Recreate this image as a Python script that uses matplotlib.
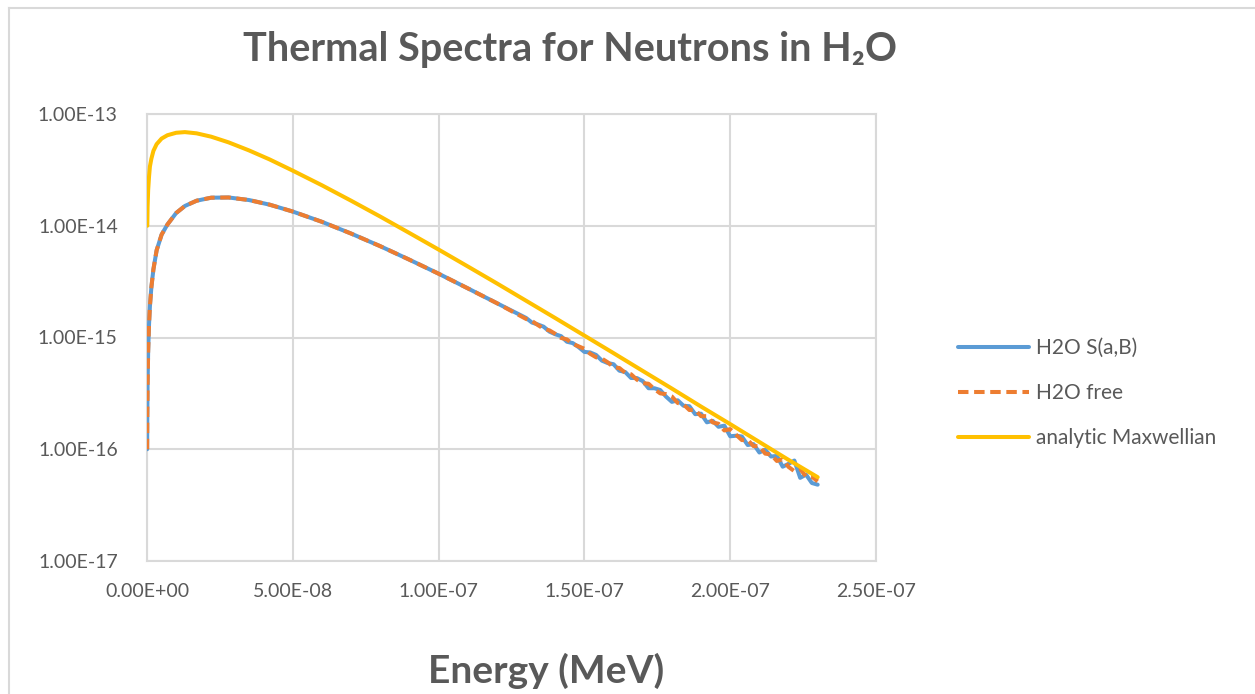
import numpy as np
import matplotlib
matplotlib.use("Agg")
import matplotlib.pyplot as plt
from matplotlib.ticker import FixedLocator, FuncFormatter, NullLocator
from matplotlib.lines import Line2D

# ---------------- data ----------------
# Smooth head of the S(a,B) / free-gas spectra (energy in MeV, log10 of flux)
head_energy = [5e-11, 1e-10, 2e-10, 4e-10, 7e-10, 1e-9, 1.5e-9, 2.2e-9, 3.3e-9, 5e-9,
               7e-9, 1e-8, 1.3e-8, 1.7e-8, 2.2e-8, 2.8e-8, 3.5e-8, 4.2e-8, 5e-8,
               6e-8, 7e-8, 8e-8, 9e-8, 1e-7, 1.1e-7, 1.2e-7]
sab_head_log = [-16.00, -15.72, -15.42, -15.12, -14.88, -14.72, -14.55, -14.39, -14.22,
                -14.08, -13.989, -13.886, -13.823, -13.776, -13.749, -13.747, -13.770,
                -13.811, -13.873, -13.965, -14.070, -14.183, -14.304, -14.429, -14.560,
                -14.693]
free_head_log = [-16.00, -15.72, -15.42, -15.12, -14.88, -14.72, -14.55, -14.39, -14.22,
                 -14.08, -13.989, -13.886, -13.823, -13.776, -13.749, -13.747, -13.770,
                 -13.811, -13.873, -13.965, -14.070, -14.183, -14.304, -14.429, -14.560,
                 -14.693]

# Noisy tail (1.30e-7 ... 2.30e-7 MeV, every 2e-9)
tail_energy = [1.30e-7, 1.32e-7, 1.34e-7, 1.36e-7, 1.38e-7, 1.40e-7, 1.42e-7, 1.44e-7,
               1.46e-7, 1.48e-7, 1.50e-7, 1.52e-7, 1.54e-7, 1.56e-7, 1.58e-7, 1.60e-7,
               1.62e-7, 1.64e-7, 1.66e-7, 1.68e-7, 1.70e-7, 1.72e-7, 1.74e-7, 1.76e-7,
               1.78e-7, 1.80e-7, 1.82e-7, 1.84e-7, 1.86e-7, 1.88e-7, 1.90e-7, 1.92e-7,
               1.94e-7, 1.96e-7, 1.98e-7, 2.00e-7, 2.02e-7, 2.04e-7, 2.06e-7, 2.08e-7,
               2.10e-7, 2.12e-7, 2.14e-7, 2.16e-7, 2.18e-7, 2.20e-7, 2.22e-7, 2.24e-7,
               2.26e-7, 2.28e-7, 2.30e-7]
sab_tail_log = [-14.825, -14.866, -14.883, -14.903, -14.947, -14.971, -14.988, -15.038,
                -15.050, -15.086, -15.129, -15.134, -15.156, -15.207, -15.229, -15.239,
                -15.297, -15.309, -15.362, -15.363, -15.390, -15.454, -15.454, -15.470,
                -15.529, -15.576, -15.562, -15.611, -15.615, -15.686, -15.682, -15.759,
                -15.746, -15.799, -15.789, -15.884, -15.879, -15.886, -15.962, -15.954,
                -16.029, -16.004, -16.065, -16.060, -16.156, -16.131, -16.101, -16.256,
                -16.227, -16.302, -16.317]
free_tail_log = [-14.834, -14.852, -14.888, -14.921, -14.936, -14.967, -15.004, -15.017,
                 -15.057, -15.079, -15.101, -15.146, -15.177, -15.189, -15.222, -15.266,
                 -15.273, -15.316, -15.329, -15.377, -15.408, -15.414, -15.462, -15.500,
                 -15.507, -15.528, -15.586, -15.599, -15.649, -15.648, -15.704, -15.704,
                 -15.760, -15.772, -15.832, -15.820, -15.870, -15.918, -15.916, -15.972,
                 -15.972, -16.039, -16.047, -16.105, -16.088, -16.158, -16.196, -16.176,
                 -16.245, -16.245, -16.287]

# Analytic Maxwellian
maxw_energy = [1e-10, 2e-10, 4e-10, 7e-10, 1e-9, 1.5e-9, 2.2e-9, 3.3e-9, 5e-9, 7e-9,
               1e-8, 1.3e-8, 1.7e-8, 2.2e-8, 2.8e-8, 3.5e-8, 4.2e-8, 5e-8, 6e-8, 7e-8,
               8e-8, 9e-8, 1e-7, 1.1e-7, 1.2e-7, 1.3e-7, 1.4e-7, 1.5e-7, 1.6e-7, 1.7e-7,
               1.8e-7, 1.9e-7, 2.0e-7, 2.1e-7, 2.2e-7, 2.3e-7]
maxw_log = [-14.0, -13.83, -13.68, -13.56, -13.47, -13.40, -13.33, -13.27, -13.22,
            -13.190, -13.168, -13.162, -13.173, -13.203, -13.254, -13.326, -13.406,
            -13.507, -13.638, -13.776, -13.918, -14.065, -14.213, -14.364, -14.516,
            -14.671, -14.826, -14.983, -15.140, -15.299, -15.457, -15.618, -15.775,
            -15.935, -16.095, -16.250]

series_labels = ["H2O S(a,B)", "H2O free", "analytic Maxwellian"]
x_ticks = [0.0, 5e-8, 1e-7, 1.5e-7, 2e-7, 2.5e-7]
y_ticks = [1e-17, 1e-16, 1e-15, 1e-14, 1e-13]

# ---------------- styling ----------------
BLUE = "#5B9BD5"
ORANGE = "#ED7D31"
YELLOW = "#FFC000"
TEXT = "#595959"
GRID = "#D9D9D9"
FONT = ["Lato", "DejaVu Sans"]
plt.rcParams["font.family"] = FONT

W, H = 1255, 694
fig = plt.figure(figsize=(W / 100, H / 100), dpi=100)
fig.patch.set_facecolor("white")

# outer chart border (top and left visible in reference)
fig.add_artist(Line2D([9 / W, 9 / W], [0, 1 - 8 / H], color=GRID, lw=1.5,
                      transform=fig.transFigure))
fig.add_artist(Line2D([9 / W, 1], [1 - 8 / H, 1 - 8 / H], color=GRID, lw=1.5,
                      transform=fig.transFigure))

ax_l, ax_r, ax_t, ax_b = 147, 876, 114, 561
ax = fig.add_axes([ax_l / W, 1 - ax_b / H, (ax_r - ax_l) / W, (ax_b - ax_t) / H])

sab_E = np.array(head_energy + tail_energy)
sab_y = 10 ** np.array(sab_head_log + sab_tail_log)
free_E = np.array(head_energy + tail_energy)
free_y = 10 ** np.array(free_head_log + free_tail_log)
maxw_E = np.array(maxw_energy)
maxw_y = 10 ** np.array(maxw_log)

LW = 2.9
l1, = ax.plot(sab_E, sab_y, color=BLUE, lw=LW, solid_capstyle="round",
              solid_joinstyle="round", zorder=3)
l2, = ax.plot(free_E, free_y, color=ORANGE, lw=LW, dashes=(2.6, 1.4),
              dash_capstyle="butt", dash_joinstyle="round", zorder=4)
l3, = ax.plot(maxw_E, maxw_y, color=YELLOW, lw=LW, solid_capstyle="round",
              solid_joinstyle="round", zorder=5)

ax.set_yscale("log")
ax.set_xlim(0, 2.5e-7)
ax.set_ylim(1e-17, 1e-13)
ax.xaxis.set_major_locator(FixedLocator(x_ticks))
ax.yaxis.set_major_locator(FixedLocator(y_ticks))
ax.yaxis.set_minor_locator(NullLocator())
ax.xaxis.set_minor_locator(NullLocator())
fmt = FuncFormatter(lambda v, p: f"{v:.2E}")
ax.xaxis.set_major_formatter(fmt)
ax.yaxis.set_major_formatter(fmt)
ax.tick_params(axis="both", length=0, labelsize=14, labelcolor=TEXT)
ax.tick_params(axis="y", pad=21)
ax.tick_params(axis="x", pad=16)
ax.grid(True, color=GRID, lw=1.5)
ax.set_axisbelow(True)
for s in ax.spines.values():
    s.set_color(GRID)
    s.set_linewidth(1.5)

leg = fig.legend([l1, l2, l3], series_labels, loc="upper left",
                 bbox_to_anchor=(958 / W, 1 - 338 / H), frameon=False,
                 fontsize=15, labelcolor=TEXT, handlelength=3.4,
                 handletextpad=0.35, labelspacing=1.2, borderpad=0, borderaxespad=0)

fig.text(570 / W, 1 - 50 / H, "Thermal Spectra for Neutrons in H\u2082O",
         ha="center", va="center", fontsize=28.5, fontweight="bold", color=TEXT,
         family=FONT)
fig.text(546 / W, 1 - 671 / H, "Energy (MeV)", ha="center", va="center",
         fontsize=28, fontweight="bold", color=TEXT, family=FONT)

fig.savefig("out.png", dpi=100)
